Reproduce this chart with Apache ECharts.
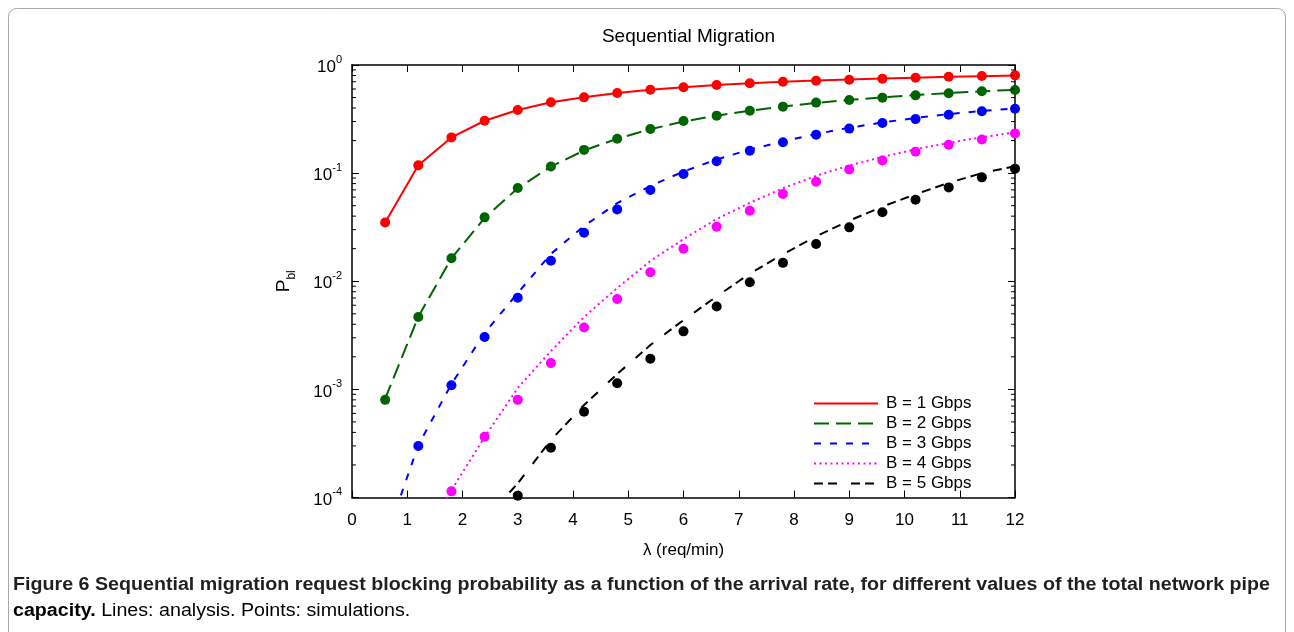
<!DOCTYPE html>
<html><head><meta charset="utf-8">
<script src="https://cdn.jsdelivr.net/npm/echarts@6/dist/echarts.min.js"></script>
<style>html,body{margin:0;padding:0;background:#fff}#c{width:1294px;height:632px}</style>
</head><body><div id="c"></div>
<script>
// ---- data ----
const lambda = [0.6,1.2,1.8,2.4,3.0,3.6,4.2,4.8,5.4,6.0,6.6,7.2,7.8,8.4,9.0,9.6,10.2,10.8,11.4,12.0];
const seriesNames = ['B = 1 Gbps','B = 2 Gbps','B = 3 Gbps','B = 4 Gbps','B = 5 Gbps'];
// analysis (lines)
const anaB1 = [0.035,0.118,0.214,0.305,0.383,0.452,0.502,0.551,0.590,0.622,0.652,0.677,0.699,0.717,0.734,0.750,0.764,0.777,0.789,0.800];
const anaB2 = [0.00082,0.0047,0.0163,0.0385,0.0725,0.115,0.162,0.208,0.255,0.300,0.340,0.378,0.413,0.446,0.476,0.502,0.527,0.550,0.571,0.590];
const anaB3 = [0.0000398,0.000305,0.00112,0.00332,0.00778,0.0179,0.0324,0.0528,0.0760,0.1035,0.1337,0.1652,0.196,0.230,0.263,0.294,0.3236,0.352,0.375,0.396];
const anaB4 = [null,0.0000355,0.000117,0.000362,0.00103,0.00226,0.00467,0.00865,0.01538,0.02455,0.0376,0.0531,0.0724,0.0944,0.1175,0.1413,0.166,0.1905,0.2148,0.238];
const anaB5 = [null,null,null,0.000062,0.000135,0.00034,0.000716,0.001387,0.00257,0.00437,0.00724,0.01175,0.0178,0.026,0.0363,0.049,0.0638,0.0813,0.100,0.116];
// simulations (points)
const simB1 = [0.035,0.118,0.214,0.305,0.383,0.452,0.502,0.551,0.590,0.622,0.654,0.679,0.699,0.715,0.730,0.746,0.762,0.779,0.791,0.802];
const simB2 = [0.0008,0.00467,0.0163,0.039,0.0728,0.115,0.164,0.208,0.256,0.303,0.340,0.378,0.412,0.449,0.475,0.499,0.524,0.547,0.571,0.587];
const simB3 = [null,0.000299,0.00109,0.00305,0.00704,0.0155,0.0281,0.0462,0.0698,0.098,0.129,0.161,0.193,0.227,0.258,0.291,0.316,0.347,0.373,0.394];
const simB4 = [null,null,0.000114,0.000365,0.0008,0.00175,0.00374,0.00684,0.0121,0.020,0.0319,0.0449,0.0641,0.0834,0.108,0.131,0.158,0.183,0.205,0.233];
const simB5 = [null,null,null,null,0.000104,0.000288,0.00062,0.00114,0.00192,0.00344,0.00585,0.0098,0.0148,0.0221,0.0315,0.0434,0.0568,0.0738,0.0914,0.110];
const xTicks = [0,1,2,3,4,5,6,7,8,9,10,11,12];
const minorTickValues = [];
[-4,-3,-2,-1].forEach(e => { for (let m = 2; m <= 9; m++) minorTickValues.push(m * Math.pow(10, e)); });

const titleText = 'Sequential Migration';
const xName = 'λ (req/min)';
const captionLine1 = 'Figure 6 Sequential migration request blocking probability as a function of the arrival rate, for different values of the total network pipe';
const captionLine2Bold = 'capacity.';
const captionLine2Normal = ' Lines: analysis. Points: simulations.';

// ---- styles ----
const colors = ['#ff0000','#006400','#0000ff','#ff00ff','#000000'];
const dashes = ['solid',[15,7],[7,9],[2,3.5],[9,5,9,14]];
const FONT = 'Liberation Sans, Arial, Helvetica, sans-serif';

const anaAll = [anaB1,anaB2,anaB3,anaB4,anaB5];
const simAll = [simB1,simB2,simB3,simB4,simB5];
const pair = arr => lambda.map((x,i) => [x, arr[i]]);

const series = [];
anaAll.forEach((a,i) => {
  series.push({
    name: seriesNames[i], type: 'line', data: pair(a), symbol: 'none', showSymbol: false,
    lineStyle: {color: colors[i], width: 2, type: dashes[i]}, itemStyle: {color: colors[i]},
    connectNulls: false, clip: true, z: 3, silent: true
  });
});
simAll.forEach((s,i) => {
  series.push({
    name: 'sim ' + seriesNames[i], type: 'scatter', data: pair(s).filter(p => p[1] != null),
    symbol: 'circle', symbolSize: 10, itemStyle: {color: colors[i], opacity: 1}, z: 4, silent: true
  });
});
series.push({
  type: 'custom', name: 'minor', silent: true, z: 5,
  data: minorTickValues.map(v => [0, v]),
  renderItem: (params, api) => {
    const v = api.value(1);
    const pL = api.coord([xTicks[0], v]);
    const pR = api.coord([xTicks[xTicks.length-1], v]);
    return {type: 'group', children: [
      {type: 'line', shape: {x1: pL[0], y1: pL[1], x2: pL[0] + 4, y2: pL[1]}, style: {stroke: '#000', lineWidth: 1}},
      {type: 'line', shape: {x1: pR[0] - 4, y1: pR[1], x2: pR[0], y2: pR[1]}, style: {stroke: '#000', lineWidth: 1}}
    ]};
  }
});

// caption horizontal scale fitting
const capSize = 17.5;
const cv = document.createElement('canvas').getContext('2d');
cv.font = 'bold ' + capSize + 'px ' + FONT;
const w1 = cv.measureText(captionLine1).width;
const capScale = Math.max(0.9, Math.min(1.2, 1257 / w1));

const axisCommon = {
  axisLine: {show: true, onZero: false, lineStyle: {color: '#000', width: 1.5}},
  axisTick: {show: true, inside: true, length: 7, lineStyle: {color: '#000', width: 1}},
  splitLine: {show: false}
};

const option = {
  animation: false,
  backgroundColor: '#fff',
  textStyle: {fontFamily: FONT},
  title: {text: titleText, left: 683.5, textAlign: 'center', top: 22,
    textStyle: {fontSize: 19, fontWeight: 'normal', color: '#000', fontFamily: FONT}},
  grid: {left: 352, right: 279, top: 65, bottom: 134.5, containLabel: false},
  legend: {
    data: seriesNames, orient: 'vertical', left: 808, top: 390,
    itemWidth: 64, itemHeight: 14, itemGap: 3,
    itemStyle: {opacity: 0},
    textStyle: {fontSize: 17, color: '#000', fontFamily: FONT, padding: [0,0,0,3]},
    selectedMode: false
  },
  xAxis: [
    Object.assign({}, axisCommon, {type: 'value', min: 0, max: 12, interval: 1, position: 'bottom',
      axisLabel: {fontSize: 17, color: '#000', margin: 14, fontFamily: FONT},
      name: xName, nameLocation: 'middle', nameGap: 44,
      nameTextStyle: {fontSize: 17, color: '#000', fontFamily: FONT}}),
    Object.assign({}, axisCommon, {type: 'value', min: 0, max: 12, interval: 1, position: 'top',
      axisLabel: {show: false}})
  ],
  yAxis: [
    Object.assign({}, axisCommon, {type: 'log', logBase: 10, min: 1e-4, max: 1, position: 'left', splitNumber: 4,
      axisLabel: {margin: 10, color: '#000',
        formatter: v => '{b|10}{s|' + Math.round(Math.log10(v)) + '}',
        rich: {b: {fontSize: 17, lineHeight: 22, verticalAlign: 'bottom', fontFamily: FONT, color: '#000'},
               s: {fontSize: 11, lineHeight: 12, verticalAlign: 'top', fontFamily: FONT, color: '#000'}}},
      name: '{p|P}{s|bl}', nameLocation: 'middle', nameRotate: 90, nameGap: 54,
      nameTextStyle: {rich: {p: {fontSize: 19, lineHeight: 24, verticalAlign: 'top', fontFamily: FONT, color: '#000'},
                             s: {fontSize: 12, lineHeight: 14, verticalAlign: 'bottom', fontFamily: FONT, color: '#000'}}}}),
    Object.assign({}, axisCommon, {type: 'log', logBase: 10, min: 1e-4, max: 1, position: 'right', splitNumber: 4,
      axisLabel: {show: false}})
  ],
  graphic: [
    {type: 'rect', shape: {x: 8.5, y: 8.5, width: 1277, height: 640, r: 8},
     style: {fill: 'none', stroke: '#a8a8a8', lineWidth: 1}, silent: true, z: 0},
    {type: 'text', x: 13, y: 576, scaleX: capScale, silent: true,
     style: {text: captionLine1, font: 'bold ' + capSize + 'px ' + FONT, fill: '#231f20'}},
    {type: 'text', x: 13, y: 602, scaleX: capScale, silent: true,
     style: {text: '{b|' + captionLine2Bold + '}{n|' + captionLine2Normal + '}',
       rich: {b: {fontWeight: 'bold', fontSize: capSize, fontFamily: FONT, color: '#231f20'},
              n: {fontWeight: 'normal', fontSize: capSize, fontFamily: FONT, color: '#231f20'}}}}
  ],
  series: series
};
const chart = echarts.init(document.getElementById('c'), null, {renderer: 'canvas'});
chart.setOption(option);
</script></body></html>
